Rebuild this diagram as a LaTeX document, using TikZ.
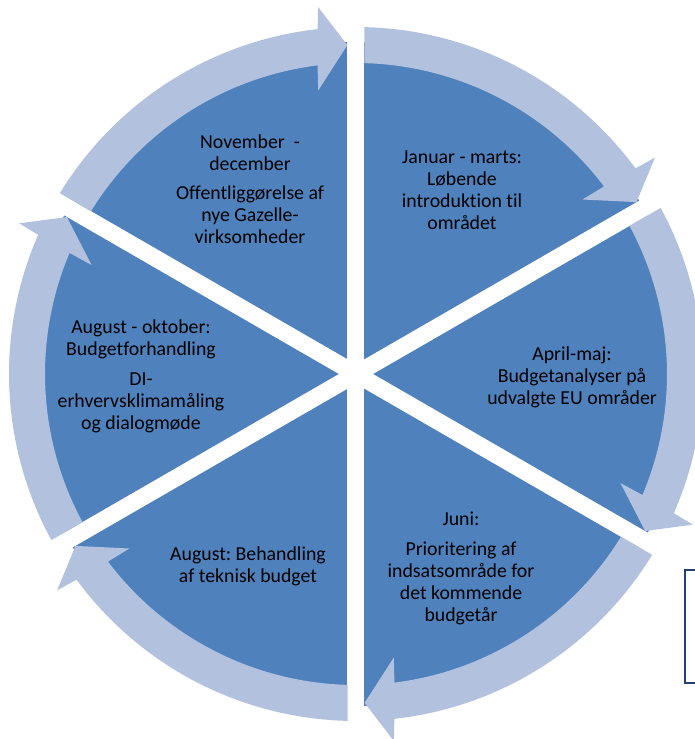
\documentclass[tikz,border=0pt]{standalone}
\usepackage{fontspec}
\setmainfont{Carlito}[Ligatures=NoCommon]
\frenchspacing
\definecolor{pieblue}{RGB}{79,129,189}
\definecolor{ringblue}{RGB}{178,194,222}
\definecolor{boxblue}{RGB}{37,64,115}
\begin{document}
\begin{tikzpicture}[x=1pt, y=1pt]
      \tikzstyle{every node}+=[inner sep=0pt]
      \tikzstyle{phase}=[align=center, text=black, font=\fontsize{19.8}{22}\selectfont]
      \path [use as bounding box] (-356,-365) rectangle (339,374);
      % pie with white gaps
      \fill [pieblue] (0,0) circle (332);
      \foreach \g in {90,30,-30,-90,-150,-210}
        \draw [white, line width=17] (0,0) -- (\g:340);
      % ring of arrows, clockwise
      \foreach \g in {90,30,-30,-90,-150,-210} {
        \pgfmathsetmacro{\h}{\g-60}
        \fill [ringblue] ({\g-1.4}:347) arc [start angle=\g-1.4, end angle=\h+6.35, radius=347]
          -- ({\h+5.9}:369) -- ({\h+1.5}:329) -- ({\h+7.6}:286) -- ({\h+7.1}:311)
          arc [start angle=\h+7.1, end angle=\g-1.55, radius=311] -- cycle;
      }
      % texts
      \node [phase] (janmar) at (106,184) {Januar - marts:\\Løbende\\introduktion til\\området};
      \node [phase] (aprmaj) at (216,-3) {April-maj:\\Budgetanalyser på\\udvalgte EU områder};
      \node [phase] (juni) at (105,-194) {Juni:\\[8pt]Prioritering af\\indsatsområde for\\det kommende\\budgetår};
      \node [phase] (august) at (-108,-192) {August: Behandling\\af teknisk budget};
      \node [phase] (augokt) at (-215,-2) {August - oktober:\\Budgetforhandling\\[8pt]DI-\\erhvervsklimamåling\\og dialogmøde};
      \node [phase] (novdec) at (-106,185) {November\ \ -\\december\\[7pt]Offentliggørelse af\\nye Gazelle-\\virksomheder};
      % box at the edge
      \draw [boxblue, line width=2] (329,-196) rectangle (352,-309);
\end{tikzpicture}
\end{document}
